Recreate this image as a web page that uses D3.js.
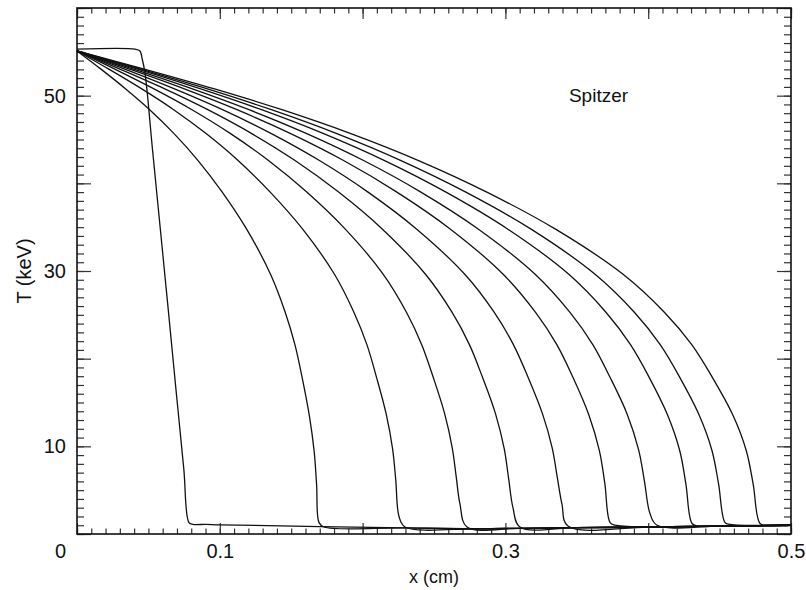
<!DOCTYPE html>
<html>
<head>
<meta charset="utf-8">
<script src="https://cdn.jsdelivr.net/npm/d3@7"></script>
<style>
  html, body { margin: 0; padding: 0; background: #fff; }
  svg text { font-family: "Liberation Sans", Arial, Helvetica, sans-serif; fill: #111; }
</style>
</head>
<body>
<svg id="chart" width="806" height="590"></svg>
<script>
// ---- data ----
const xMajorTicks = [0, 0.1, 0.2, 0.3, 0.4, 0.5];
const xTickLabels = ["", "0.1", "", "0.3", "", "0.5"];
const yMajorTicks = [0, 10, 20, 30, 40, 50, 60];
const yTickLabels = ["", "10", "", "30", "", "50", ""];
const originLabel = "0";
const xTitle = "x (cm)";
const yTitle = "T (keV)";
const annotation = "Spitzer";

// temperature profiles [x (cm), T (keV)]
const curve1 = [[0,55.3],[0.0406,55.3],[0.0441,55.1],[0.0455,54.3],[0.0476,52.6],[0.0529,43.8],[0.0584,34.7],[0.0639,25.6],[0.0693,16.5],[0.0748,7.4],[0.0784,1.3],[0.0812,1.1]];
const curve2 = [[0,55.1],[0.0170,53.0],[0.0339,50.8],[0.0509,48.4],[0.0678,45.7],[0.0848,42.6],[0.1017,39.0],[0.1187,34.8],[0.1356,29.6],[0.1458,25.3],[0.1526,21.6],[0.1576,17.9],[0.1627,13.5],[0.1661,9.4],[0.1678,5.6],[0.1695,1.3],[0.1730,0.8]];
const curve3 = [[0,55.1],[0.0226,53.0],[0.0451,50.8],[0.0677,48.4],[0.0902,45.7],[0.1128,42.6],[0.1353,39.0],[0.1579,34.8],[0.1804,29.6],[0.1939,25.3],[0.2030,21.6],[0.2097,17.9],[0.2165,13.7],[0.2210,9.7],[0.2232,6.2],[0.2255,2.0],[0.2297,0.8]];
const curve4 = [[0,55.1],[0.0268,53.0],[0.0536,50.8],[0.0805,48.4],[0.1073,45.7],[0.1341,42.6],[0.1609,39.0],[0.1877,34.8],[0.2146,29.6],[0.2307,25.3],[0.2414,21.6],[0.2494,17.9],[0.2575,13.7],[0.2628,9.8],[0.2655,6.6],[0.2682,3.4],[0.2731,0.8]];
const curve5 = [[0,55.1],[0.0305,53.0],[0.0611,50.8],[0.0916,48.4],[0.1221,45.7],[0.1527,42.6],[0.1832,39.0],[0.2137,34.8],[0.2442,29.6],[0.2626,25.3],[0.2748,21.6],[0.2839,17.9],[0.2931,13.7],[0.2992,9.7],[0.3022,6.4],[0.3053,3.0],[0.3102,0.8]];
const curve6 = [[0,55.1],[0.0340,53.0],[0.0679,50.8],[0.1019,48.4],[0.1358,45.7],[0.1698,42.6],[0.2038,39.0],[0.2377,34.8],[0.2717,29.6],[0.2921,25.3],[0.3056,21.6],[0.3158,17.9],[0.3260,13.7],[0.3328,9.8],[0.3362,6.6],[0.3396,3.4],[0.3438,0.9]];
const curve7 = [[0,55.1],[0.0373,53.0],[0.0747,50.8],[0.1120,48.4],[0.1493,45.7],[0.1867,42.6],[0.2240,39.0],[0.2613,34.8],[0.2986,29.6],[0.3210,25.3],[0.3360,21.6],[0.3472,17.9],[0.3584,13.6],[0.3658,9.5],[0.3696,5.8],[0.3733,1.3],[0.3768,1.0]];
const curve8 = [[0,55.1],[0.0401,53.0],[0.0803,50.8],[0.1204,48.4],[0.1605,45.7],[0.2007,42.6],[0.2408,39.0],[0.2809,34.8],[0.3210,29.6],[0.3451,25.3],[0.3612,21.6],[0.3732,17.9],[0.3852,13.7],[0.3933,9.6],[0.3973,6.1],[0.4013,2.3],[0.4062,1.0]];
const curve9 = [[0,55.1],[0.0431,53.0],[0.0861,50.8],[0.1292,48.4],[0.1723,45.7],[0.2154,42.6],[0.2584,39.0],[0.3015,34.8],[0.3446,29.6],[0.3704,25.3],[0.3876,21.6],[0.4006,17.9],[0.4135,13.6],[0.4221,9.5],[0.4264,5.7],[0.4307,1.2],[0.4349,0.9]];
const curve10 = [[0,55.1],[0.0454,53.0],[0.0908,50.8],[0.1361,48.4],[0.1815,45.7],[0.2269,42.6],[0.2723,39.0],[0.3177,34.8],[0.3630,29.6],[0.3903,25.3],[0.4084,21.6],[0.4220,17.9],[0.4356,13.6],[0.4447,9.5],[0.4493,5.7],[0.4538,1.3],[0.4573,1.1]];
const curve11 = [[0,55.1],[0.0478,53.0],[0.0957,50.8],[0.1435,48.4],[0.1913,45.7],[0.2392,42.6],[0.2870,39.0],[0.3348,34.8],[0.3826,29.6],[0.4113,25.3],[0.4305,21.6],[0.4448,17.9],[0.4592,13.6],[0.4687,9.5],[0.4735,5.7],[0.4783,1.2],[0.4832,1.0]];
// cold foot ahead of the fronts (shared)
const footX = [0.09, 0.10, 0.17, 0.23, 0.28, 0.31, 0.35, 0.40, 0.45, 0.50];
const footT = [1.1, 1.05, 0.85, 0.7, 0.6, 0.65, 0.72, 0.8, 0.9, 1.0];

const curves = [curve1, curve2, curve3, curve4, curve5, curve6, curve7, curve8, curve9, curve10, curve11];

// ---- layout ----
const svg = d3.select("#chart");
const mLeft = 77, mRight = 791, mTop = 8, mBottom = 534;
const x = d3.scaleLinear().domain([0, 0.5]).range([mLeft, mRight]);
const y = d3.scaleLinear().domain([0, 60]).range([mBottom, mTop]);
const plotW = mRight - mLeft, plotH = mBottom - mTop;
const xTickLen = Math.round(plotH * 0.02);   // ~10
const yTickLen = Math.round(plotW * 0.02);   // ~14

const xMinor = d3.range(0, 50.5, 1).map(d => d / 100);
const yMinor = d3.range(0, 60.5, 1);

const tickColor = "#333";

function styleAxis(g) {
  g.select(".domain").remove();
  g.selectAll(".tick line").attr("stroke", tickColor).attr("stroke-width", 1.2);
  g.selectAll(".tick text").attr("font-size", 20).attr("fill", "#111")
    .attr("font-family", '"Liberation Sans", Arial, Helvetica, sans-serif');
}

// bottom axis (minor + major with labels)
svg.append("g").attr("transform", `translate(0,${mBottom})`)
  .call(d3.axisBottom(x).tickValues(xMinor).tickSize(-xTickLen / 2).tickFormat(""))
  .call(styleAxis);
svg.append("g").attr("transform", `translate(0,${mBottom})`)
  .call(d3.axisBottom(x).tickValues(xMajorTicks).tickSize(-xTickLen).tickPadding(10)
    .tickFormat((d, i) => xTickLabels[i]))
  .call(styleAxis);
// top axis
svg.append("g").attr("transform", `translate(0,${mTop})`)
  .call(d3.axisTop(x).tickValues(xMinor).tickSize(-xTickLen / 2).tickFormat(""))
  .call(styleAxis);
svg.append("g").attr("transform", `translate(0,${mTop})`)
  .call(d3.axisTop(x).tickValues(xMajorTicks).tickSize(-xTickLen).tickFormat(""))
  .call(styleAxis);
// left axis
svg.append("g").attr("transform", `translate(${mLeft},0)`)
  .call(d3.axisLeft(y).tickValues(yMinor).tickSize(-yTickLen / 2).tickFormat(""))
  .call(styleAxis);
svg.append("g").attr("transform", `translate(${mLeft},0)`)
  .call(d3.axisLeft(y).tickValues(yMajorTicks).tickSize(-yTickLen).tickPadding(11)
    .tickFormat((d, i) => yTickLabels[i]))
  .call(styleAxis);
// right axis
svg.append("g").attr("transform", `translate(${mRight},0)`)
  .call(d3.axisRight(y).tickValues(yMinor).tickSize(-yTickLen / 2).tickFormat(""))
  .call(styleAxis);
svg.append("g").attr("transform", `translate(${mRight},0)`)
  .call(d3.axisRight(y).tickValues(yMajorTicks).tickSize(-yTickLen).tickFormat(""))
  .call(styleAxis);

// origin label "0"
svg.append("text")
  .attr("x", x(0) - 16.5).attr("y", 558)
  .attr("text-anchor", "middle").attr("font-size", 20)
  .text(originLabel);

// frame
svg.append("rect")
  .attr("x", mLeft).attr("y", mTop).attr("width", plotW).attr("height", plotH)
  .attr("fill", "none").attr("stroke", "#111").attr("stroke-width", 1.6);

// curves
const line = d3.line()
  .x(d => x(d[0])).y(d => y(d[1]))
  .curve(d3.curveCatmullRom.alpha(0.5));

const foot = footX.map((fx, i) => [fx, footT[i]]);
curves.forEach(c => {
  const lastX = c[c.length - 1][0];
  const pts = c.concat(foot.filter(p => p[0] > lastX + 0.008));
  svg.append("path")
    .attr("d", line(pts))
    .attr("fill", "none")
    .attr("stroke", "#111")
    .attr("stroke-width", 1.3)
    .attr("stroke-linejoin", "round");
});

// titles
svg.append("text")
  .attr("x", (mLeft + mRight) / 2).attr("y", 583)
  .attr("text-anchor", "middle").attr("font-size", 18)
  .text(xTitle);
svg.append("text")
  .attr("transform", `translate(31,${(mTop + mBottom) / 2}) rotate(-90)`)
  .attr("text-anchor", "middle").attr("font-size", 20)
  .text(yTitle);
svg.append("text")
  .attr("x", x(0.3445)).attr("y", y(49.3))
  .attr("font-size", 19)
  .text(annotation);
</script>
</body>
</html>
